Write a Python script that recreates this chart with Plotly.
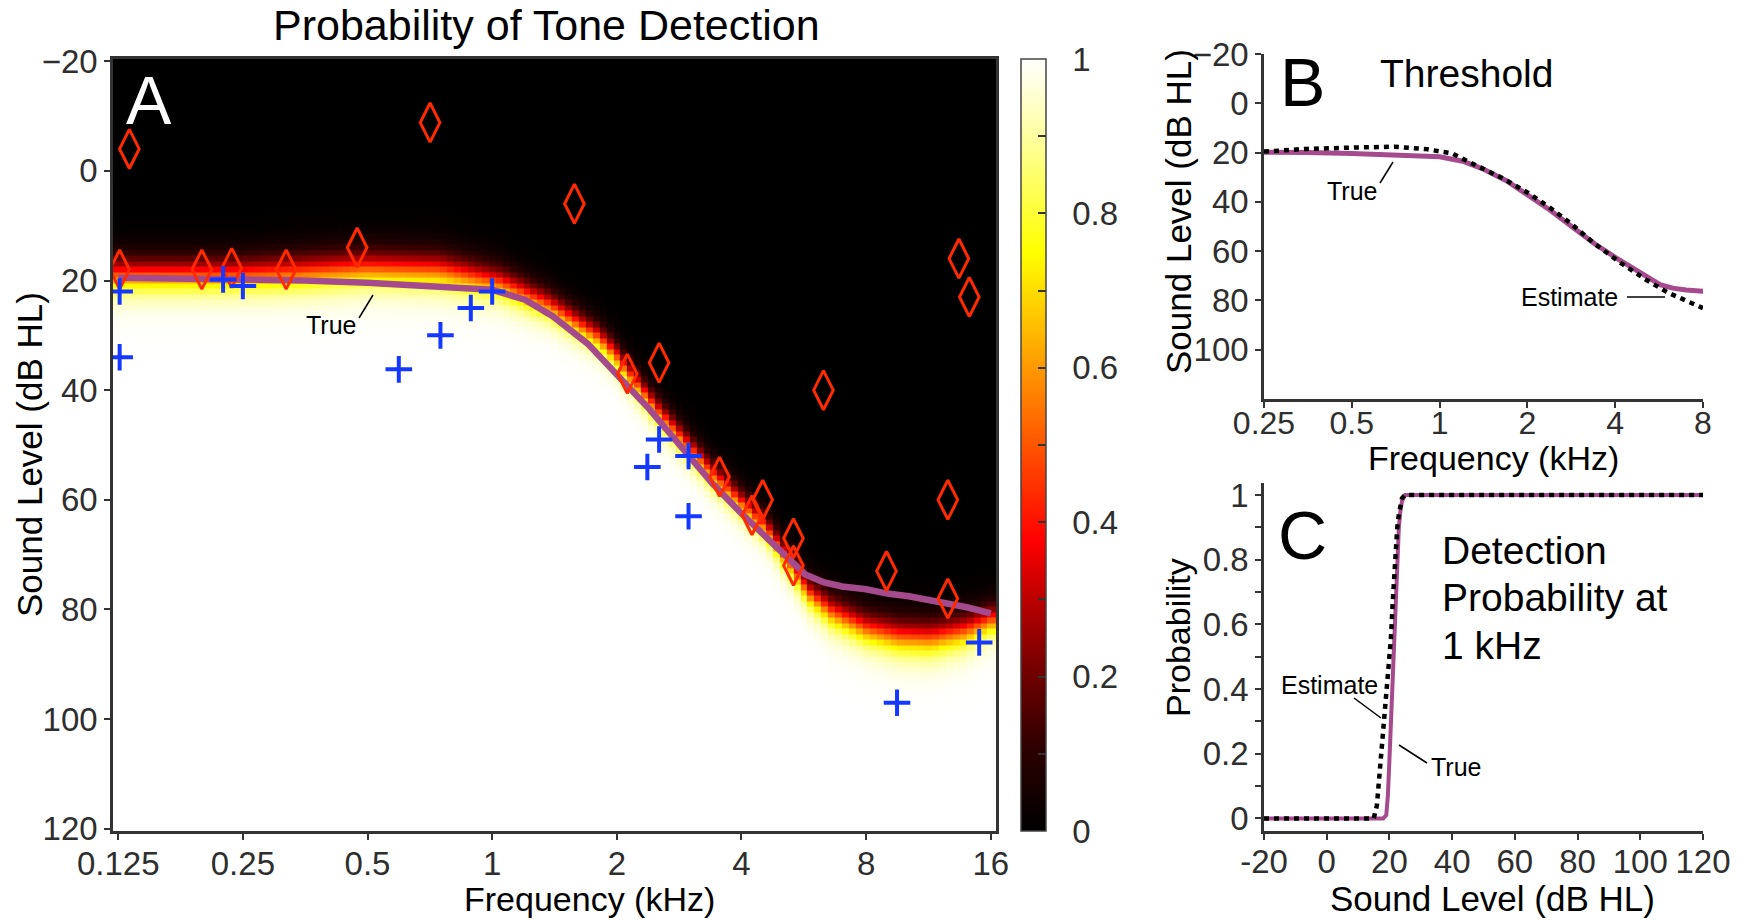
import numpy as np
import plotly.graph_objects as go

W, H = 1749, 920
FONT = "Liberation Sans, Arial, Helvetica, sans-serif"
TICKC = "#2e2e2e"
AXC = "#333333"
PURPLE = "#a64a8e"
RED = "#ff2a00"
BLUE = "#1438ff"

# ---------------- data ----------------
# Panel A / B tick labels
a_x_ticks = [0.125, 0.25, 0.5, 1, 2, 4, 8, 16]
a_x_text = ["0.125", "0.25", "0.5", "1", "2", "4", "8", "16"]
a_y_ticks = [-20, 0, 20, 40, 60, 80, 100, 120]
a_y_text = ["\u221220", "0", "20", "40", "60", "80", "100", "120"]
b_x_ticks = [0.25, 0.5, 1, 2, 4, 8]
b_x_text = ["0.25", "0.5", "1", "2", "4", "8"]
b_y_ticks = [-20, 0, 20, 40, 60, 80, 100]
b_y_text = ["\u221220", "0", "20", "40", "60", "80", "100"]
c_x_ticks = [-20, 0, 20, 40, 60, 80, 100, 120]
c_x_text = ["-20", "0", "20", "40", "60", "80", "100", "120"]
c_y_ticks = [0, 0.2, 0.4, 0.6, 0.8, 1.0]
c_y_text = ["0", "0.2", "0.4", "0.6", "0.8", "1"]

# estimated field: 50% point and spread (dB) of the heat map, per frequency (kHz)
hm_freq = [0.125, 0.18, 0.25, 0.35, 0.5, 0.75, 1.04, 1.37, 1.81, 2.0, 2.48, 3.27, 4.56, 5.8, 6.6, 7.95, 9.57, 11.5, 13.85, 16]
hm_thr = [19.0, 19.0, 19.0, 18.5, 17.8, 18.2, 20.5, 24.5, 30.5, 34.0, 43.5, 54.0, 65.0, 77.0, 80.5, 83.5, 85.0, 85.3, 84.0, 82.0]
hm_spread = [1.9, 1.9, 1.9, 2.0, 2.0, 2.0, 1.8, 1.6, 1.5, 1.5, 1.5, 1.5, 1.5, 1.6, 1.8, 1.9, 2.0, 2.0, 1.9, 1.7]

# true threshold curve (kHz, dB HL)
true_freq = [0.125, 0.18, 0.25, 0.35, 0.5, 0.7, 1.0, 1.2, 1.4, 1.7, 2.0, 2.4, 2.8, 3.4, 4.0, 4.6, 5.2, 5.7, 6.3, 7.0, 8.0, 9.0, 10.15, 12.6, 14.0, 16.0]
true_thr = [19.5, 19.6, 19.8, 20.0, 20.4, 20.9, 21.7, 23.5, 26.5, 31.5, 37.0, 43.5, 49.5, 57.0, 62.5, 67.0, 71.0, 73.6, 75.0, 75.8, 76.3, 77.1, 77.6, 78.8, 79.6, 80.7]

# estimated threshold curve (panel B)
est_freq = [0.25, 0.35, 0.5, 0.7, 0.9, 1.1, 1.35, 1.65, 2.0, 2.4, 2.8, 3.4, 4.2, 5.1, 6.1, 7.0, 8.0]
est_thr = [19.6, 18.5, 18.0, 17.6, 18.6, 20.3, 25.5, 30.5, 36.2, 42.5, 48.5, 57.0, 65.0, 71.6, 77.0, 80.2, 83.1]

# tones not detected (red diamonds)
miss_freq = [0.133, 0.126, 0.199, 0.235, 0.318, 0.472, 0.708, 1.58, 2.12, 2.53, 3.54, 4.5, 4.24, 5.34, 5.34, 6.31, 8.96, 12.6, 12.6, 13.4, 14.2]
miss_db = [-4.0, 18.0, 18.0, 17.7, 18.0, 14.0, -8.8, 6.0, 37.0, 35.0, 55.8, 60.0, 62.8, 67.0, 72.0, 40.0, 73.0, 60.0, 78.0, 16.0, 23.0]

# tones detected (blue crosses)
hit_freq = [0.126, 0.126, 0.224, 0.25, 0.595, 0.75, 0.888, 1.0, 2.37, 2.53, 2.98, 2.98, 9.5, 15.0]
hit_db = [22.0, 34.0, 19.8, 21.0, 36.2, 30.0, 25.0, 22.0, 54.0, 49.0, 52.0, 63.0, 97.0, 86.0]

# panel C: detection probability at 1 kHz
c_level = [-20, 0, 14, 15, 16, 17, 18, 19, 19.5, 20, 20.5, 21, 21.5, 22, 22.5, 23, 23.5, 24, 25, 40, 60, 80, 100, 120]
c_true_p = [0, 0, 0, 0, 0, 0, 0, 0.01, 0.07, 0.18, 0.3, 0.42, 0.55, 0.68, 0.8, 0.9, 0.95, 0.98, 1, 1, 1, 1, 1, 1]
c_est_p = [0, 0, 0, 0, 0.04, 0.15, 0.3, 0.4, 0.44, 0.49, 0.56, 0.66, 0.76, 0.84, 0.9, 0.94, 0.97, 0.99, 1, 1, 1, 1, 1, 1]

# colorbar
cb_ticks = [0, 0.1, 0.2, 0.3, 0.4, 0.5, 0.6, 0.7, 0.8, 0.9, 1.0]
cb_text = ["0", "", "0.2", "", "0.4", "", "0.6", "", "0.8", "", "1"]

# ---------------- heat map grid ----------------
step = 1 / 18
grid_oct = np.arange(-1, 7 * 18 + 2) * step
grid_f = 0.125 * 2 ** grid_oct
grid_db = np.arange(-20, 121, 1.0)
lf = np.log2(grid_f)
thr = np.interp(lf, np.log2(hm_freq), hm_thr)
spr = np.interp(lf, np.log2(hm_freq), hm_spread)
P = 1.0 / (1.0 + np.exp(-(grid_db[:, None] - thr[None, :]) / spr[None, :]))

hot = [[0.0, "#000000"], [0.1, "#2a0000"], [0.2, "#6e0000"], [0.3, "#bb0000"],
       [0.375, "#ff0000"], [0.5, "#ff5500"], [0.6, "#ff9900"], [0.75, "#ffff00"],
       [0.875, "#ffff88"], [1.0, "#ffffff"]]


def px(x):
    return x / W


def py(y):
    return 1 - y / H


fig = go.Figure()

SP = "\u2007"
fig.add_trace(go.Heatmap(
    x=grid_f, y=grid_db, z=P, zmin=0, zmax=1, colorscale=hot, xaxis="x", yaxis="y",
    hoverinfo="skip",
    colorbar=dict(x=px(1021), xanchor="left", xpad=0, y=py(831), yanchor="bottom", ypad=0,
                  len=(831 - 59) / H, lenmode="fraction", thickness=25, thicknessmode="pixels",
                  outlinewidth=1.5, outlinecolor="#444", ticks="inside", ticklen=8, tickwidth=1.5,
                  tickcolor=AXC, tickvals=cb_ticks, ticktext=[(SP + t) if t else t for t in cb_text],
                  tickfont=dict(family=FONT, size=33, color=TICKC))))

fig.add_trace(go.Scatter(x=true_freq, y=true_thr, mode="lines", line=dict(color=PURPLE, width=6.5),
                         xaxis="x", yaxis="y", showlegend=False))
fig.add_trace(go.Scatter(x=miss_freq, y=miss_db, mode="markers",
                         marker=dict(symbol="diamond-tall-open", size=28, color=RED, line=dict(color=RED, width=3)),
                         xaxis="x", yaxis="y", showlegend=False))
fig.add_trace(go.Scatter(x=hit_freq, y=hit_db, mode="markers",
                         marker=dict(symbol="cross-thin-open", size=19, color=BLUE, line=dict(color=BLUE, width=4)),
                         xaxis="x", yaxis="y", showlegend=False))

# panel B
fig.add_trace(go.Scatter(x=true_freq, y=true_thr, mode="lines", line=dict(color=PURPLE, width=5),
                         xaxis="x2", yaxis="y2", showlegend=False))
fig.add_trace(go.Scatter(x=est_freq, y=est_thr, mode="lines", line=dict(color="black", width=4.5, dash="5px,5px"),
                         xaxis="x2", yaxis="y2", showlegend=False))

# panel C
fig.add_trace(go.Scatter(x=c_level, y=c_true_p, mode="lines", line=dict(color=PURPLE, width=4),
                         xaxis="x3", yaxis="y3", showlegend=False))
fig.add_trace(go.Scatter(x=c_level, y=c_est_p, mode="lines", line=dict(color="black", width=4.5, dash="5px,5px"),
                         xaxis="x3", yaxis="y3", showlegend=False))

tickfont = dict(family=FONT, size=33, color=TICKC)
common = dict(showgrid=False, zeroline=False, showline=True, linecolor=AXC, linewidth=2.5,
              ticks="outside", ticklen=6, tickwidth=2, tickcolor=AXC,
              automargin=False, tickmode="array")

lo = np.log10(0.125) - 0.0126
hi = np.log10(16) + 0.0126
fig.update_layout(
    width=W, height=H, margin=dict(l=0, r=0, t=0, b=0, pad=0, autoexpand=False),
    paper_bgcolor="white", plot_bgcolor="white", showlegend=False,
    font=dict(family=FONT, color="black"),
    xaxis=dict(domain=[px(113), px(996)], anchor="y", type="log", range=[lo, hi], mirror=True,
               tickvals=a_x_ticks, ticktext=a_x_text, ticklabelstandoff=-4, tickfont=tickfont, **common),
    yaxis=dict(domain=[py(831), py(59)], anchor="x", range=[120.4, -20.4], mirror=True,
               tickvals=a_y_ticks, ticktext=a_y_text, tickfont=tickfont, **common),
    xaxis2=dict(domain=[px(1264), px(1703)], anchor="y2", type="log",
                range=[np.log10(0.25), np.log10(8)],
                tickvals=b_x_ticks, ticktext=b_x_text, ticklabelstandoff=-12,
                tickfont=dict(family=FONT, size=32, color=TICKC), **common),
    yaxis2=dict(domain=[py(399), py(54)], anchor="x2", range=[120, -20],
                tickvals=b_y_ticks, ticktext=b_y_text, tickfont=tickfont, **common),
    xaxis3=dict(domain=[px(1264), px(1703)], anchor="y3", range=[-20, 120],
                tickvals=c_x_ticks, ticktext=c_x_text, ticklabelstandoff=-6, tickfont=tickfont, **common),
    yaxis3=dict(domain=[py(831), py(482.7)], anchor="x3", range=[-0.039, 1.038],
                tickvals=c_y_ticks, ticktext=c_y_text, tickfont=tickfont,
                minor=dict(ticks="outside", dtick=0.1, ticklen=6, tickwidth=2, tickcolor=AXC, tick0=0),
                **common),
)

ann = []


def txt(x, y, s, size, color="black", angle=0, xanchor="center", yanchor="middle", align="center"):
    ann.append(dict(x=px(x), y=py(y), xref="paper", yref="paper", text=s, showarrow=False,
                    font=dict(family=FONT, size=size, color=color), textangle=angle,
                    xanchor=xanchor, yanchor=yanchor, align=align))


txt(546, 25, "Probability of Tone Detection", 43)
txt(149, 100, "A", 68, color="white")
txt(1302, 82, "B", 68)
txt(1302, 535, "C", 68)
txt(1466, 74, "Threshold", 39)
txt(1440, 550, "Detection", 39, xanchor="left")
txt(1440, 597, "Probability at", 39, xanchor="left")
txt(1440, 645, "1 kHz", 39, xanchor="left")
txt(331, 325, "True", 25)
txt(1352, 191, "True", 25)
txt(1569, 297, "Estimate", 25)
txt(1329, 685, "Estimate", 25)
txt(1456, 767, "True", 25)
# axis titles
txt(29, 455, "Sound Level (dB HL)", 35, angle=-90)
txt(589, 899, "Frequency (kHz)", 34)
txt(1178, 212, "Sound Level (dB HL)", 35, angle=-90)
txt(1493, 458, "Frequency (kHz)", 34)
txt(1178, 638, "Probability", 34, angle=-90)
txt(1492, 898, "Sound Level (dB HL)", 35)

shapes = []
for (x0, y0, x1, y1) in [(359, 318, 373, 295), (1380, 183, 1393, 162), (1627, 297, 1665, 297),
                         (1354, 698, 1381, 718), (1399, 745, 1427, 763)]:
    shapes.append(dict(type="line", xref="paper", yref="paper", x0=px(x0), y0=py(y0), x1=px(x1), y1=py(y1),
                       line=dict(color="black", width=1.5)))

fig.update_layout(annotations=ann, shapes=shapes)

fig.write_html("out.html", config={"displayModeBar": False},
               post_script="document.body.style.margin='0';document.body.style.overflow='hidden';")
